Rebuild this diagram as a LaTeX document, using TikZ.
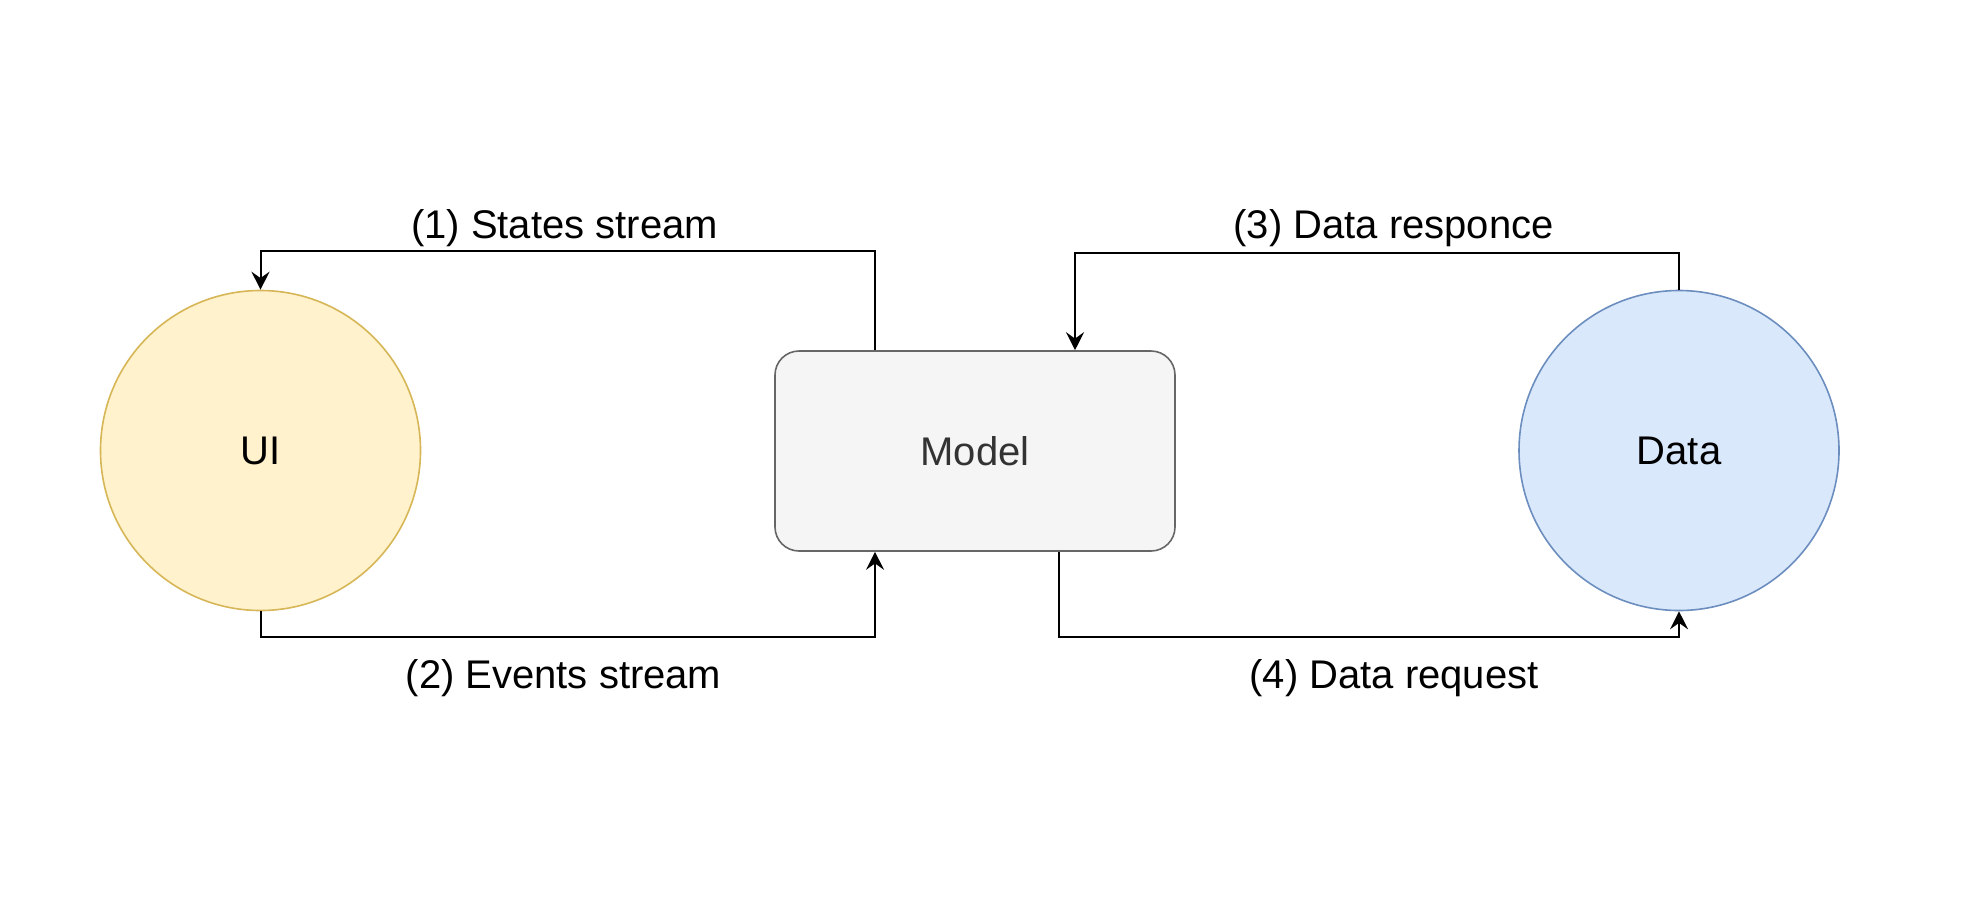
\documentclass[tikz,border=0pt]{standalone}
\usepackage{fontspec}
\setmainfont{Liberation Sans}
\usetikzlibrary{arrows.meta}
\definecolor{uifill}{HTML}{FFF2CC}
\definecolor{uidraw}{HTML}{D6B656}
\definecolor{datafill}{HTML}{DAE8FC}
\definecolor{datadraw}{HTML}{6C8EBF}
\definecolor{modelfill}{HTML}{F5F5F5}
\definecolor{modeldraw}{HTML}{666666}
\definecolor{modeltext}{HTML}{333333}
\begin{document}
\begin{tikzpicture}[x=0.5pt,y=-0.5pt,
  every node/.style={font=\fontsize{20}{24}\selectfont},
  blob/.style={circle,minimum size=160pt,inner sep=0pt,line width=0.8pt},
  flow/.style={-{Stealth[length=9pt,width=9pt,inset=3.2pt]},line width=1pt}]
  \useasboundingbox (0,0) rectangle (1974,922);
  \node[blob,fill=uifill,draw=uidraw] (ui) at (260.5,450.5) {UI};
  \node[draw=modeldraw,fill=modelfill,text=modeltext,rounded corners=12pt,minimum width=200pt,minimum height=100pt,line width=0.8pt] (model) at (975,451) {Model};
  \node[blob,fill=datafill,draw=datadraw] (data) at (1679,450.5) {Data};
  \coordinate (states) at ([xshift=-50pt]model.north);
  \coordinate (events) at ([xshift=-50pt]model.south);
  \coordinate (responce) at ([xshift=50pt]model.north);
  \coordinate (request) at ([xshift=42pt]model.south);
  \coordinate (toprowl) at (0,250.7);
  \coordinate (toprowr) at (0,252.7);
  \coordinate (botrow) at (0,636.5);
  \draw[flow] (states) -- (states |- toprowl) -| (ui.north);
  \draw[flow] (ui.south) -- (ui.south |- botrow) -| (events);
  \draw[flow] (data.north) -- (data.north |- toprowr) -| (responce);
  \draw[flow] (request) -- (request |- botrow) -| (data.south);
  \foreach \i/\x/\y/\t in {1/564.5/238/{(1) States stream},2/563.5/688/{(2) Events stream},3/1393.5/238/{(3) Data responce},4/1394/688/{(4) Data request}}
  {
    \node[anchor=base] (lab\i) at (\x,\y) {\t};
  }
\end{tikzpicture}
\end{document}
